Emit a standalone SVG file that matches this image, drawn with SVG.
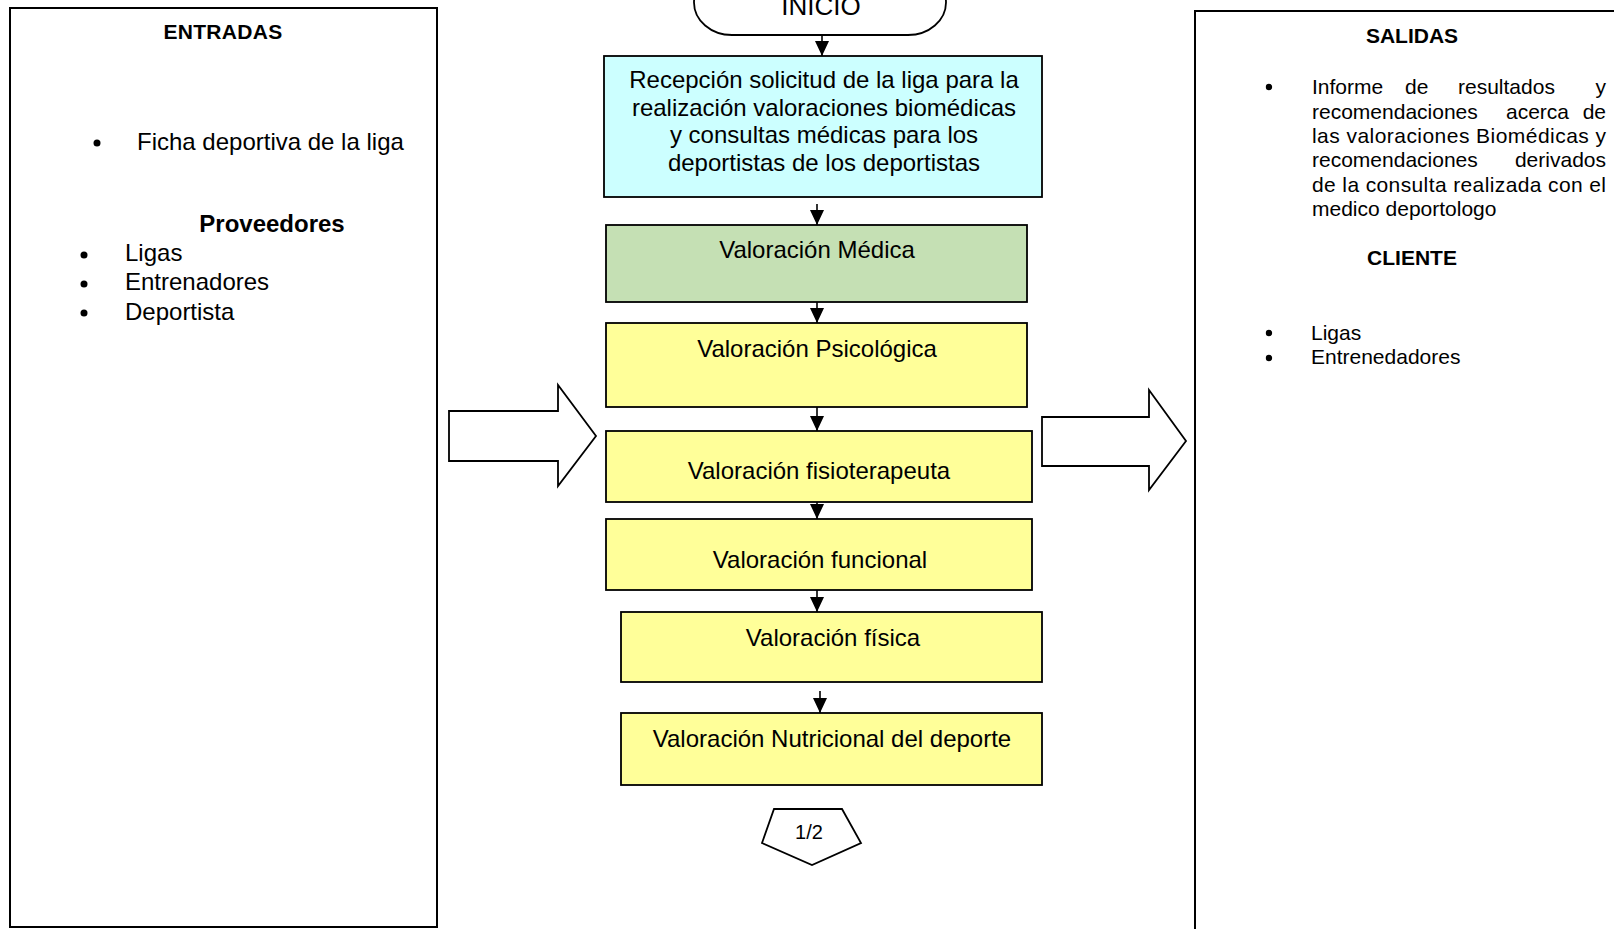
<svg xmlns="http://www.w3.org/2000/svg" width="1614" height="929" viewBox="0 0 1614 929">
<defs>
<style>
text{font-family:"Liberation Sans",Arial,sans-serif;fill:#000}
.t24{font-size:24px}
.t21{font-size:21px}
.b21{font-size:21px;font-weight:bold}
.b24{font-size:24px;font-weight:bold}
.mid{text-anchor:middle}
.end{text-anchor:end}
.box{stroke:#000;stroke-width:1.8}
.frame{fill:#fff;stroke:#000;stroke-width:2}
.conn{stroke:#000;stroke-width:1.6;fill:none}
</style>
<marker id="ah" viewBox="0 0 14 15" refX="7" refY="15" markerWidth="14" markerHeight="15" markerUnits="userSpaceOnUse" orient="0">
<path d="M0,0 L14,0 L7,15 z" fill="#000"/>
</marker>
</defs>
<rect width="1614" height="929" fill="#fff"/>

<g id="entradas">
<rect class="frame" x="10" y="8" width="427" height="919"/>
<text class="b21 mid" x="223" y="39" letter-spacing="0.3">ENTRADAS</text>
<circle cx="97" cy="143" r="3.5"/>
<text class="t24" x="137" y="150">Ficha deportiva de la liga</text>
<text class="b24 mid" x="272" y="232">Proveedores</text>
<circle cx="84" cy="255" r="3.5"/>
<text class="t24" x="125" y="261">Ligas</text>
<circle cx="84" cy="284" r="3.5"/>
<text class="t24" x="125" y="290">Entrenadores</text>
<circle cx="84" cy="313" r="3.5"/>
<text class="t24" x="125" y="320">Deportista</text>
</g>

<g id="salidas">
<rect class="frame" x="1195" y="11" width="430" height="930"/>
<text class="b21 mid" x="1412" y="43">SALIDAS</text>
<circle cx="1269" cy="87" r="3.2"/>
<text class="t21" y="94"><tspan x="1312">Informe</tspan><tspan x="1405">de</tspan><tspan x="1458">resultados</tspan></text>
<text class="t21 end" x="1606" y="94">y</text>
<text class="t21" y="119"><tspan x="1312">recomendaciones</tspan><tspan x="1506">acerca</tspan></text>
<text class="t21 end" x="1606" y="119">de</text>
<text class="t21" x="1312" y="143" textLength="294" lengthAdjust="spacing">las valoraciones Biomédicas y</text>
<text class="t21" x="1312" y="167">recomendaciones</text>
<text class="t21 end" x="1606" y="167">derivados</text>
<text class="t21" x="1312" y="192" textLength="294" lengthAdjust="spacing">de la consulta realizada con el</text>
<text class="t21" x="1312" y="216">medico deportologo</text>
<text class="b21 mid" x="1412" y="265">CLIENTE</text>
<circle cx="1269" cy="333" r="3.2"/>
<text class="t21" x="1311" y="340">Ligas</text>
<circle cx="1269" cy="358" r="3.2"/>
<text class="t21" x="1311" y="364">Entrenedadores</text>
</g>

<g id="inicio">
<rect class="box" x="694" y="-30" width="252" height="65" rx="38" ry="34" fill="#fff"/>
<text class="mid" x="821" y="15" style="font-size:26px">INICIO</text>
</g>

<g id="recepcion">
<rect class="box" x="604" y="56" width="438" height="141" fill="#CCFFFF"/>
<text class="t24 mid" x="824" y="88">Recepción solicitud de la liga para la</text>
<text class="t24 mid" x="824" y="116">realización valoraciones biomédicas</text>
<text class="t24 mid" x="824" y="143">y consultas médicas para los</text>
<text class="t24 mid" x="824" y="171">deportistas de los deportistas</text>
</g>

<g id="medica">
<rect class="box" x="606" y="225" width="421" height="77" fill="#C5E0B4"/>
<text class="t24 mid" x="817" y="258">Valoración Médica</text>
</g>

<g id="psicologica">
<rect class="box" x="606" y="323" width="421" height="84" fill="#FFFF99"/>
<text class="t24 mid" x="817" y="357">Valoración Psicológica</text>
</g>

<g id="fisioterapeuta">
<rect class="box" x="606" y="431" width="426" height="71" fill="#FFFF99"/>
<text class="t24 mid" x="819" y="479">Valoración fisioterapeuta</text>
</g>

<g id="funcional">
<rect class="box" x="606" y="519" width="426" height="71" fill="#FFFF99"/>
<text class="t24 mid" x="820" y="568">Valoración funcional</text>
</g>

<g id="fisica">
<rect class="box" x="621" y="612" width="421" height="70" fill="#FFFF99"/>
<text class="t24 mid" x="833" y="646">Valoración física</text>
</g>

<g id="nutricional">
<rect class="box" x="621" y="713" width="421" height="72" fill="#FFFF99"/>
<text class="t24 mid" x="832" y="747">Valoración Nutricional del deporte</text>
</g>

<g id="conector-1-2">
<polygon class="box" points="774,809 842,809 861,843 812,865 762,843" fill="#fff"/>
<text class="mid" x="809" y="839" style="font-size:20px">1/2</text>
</g>

<g id="flecha-entrada">
<polygon class="box" points="449,411 558,411 558,385 596,436 558,486 558,461 449,461" fill="#fff"/>
</g>

<g id="flecha-salida">
<polygon class="box" points="1042,417 1149,417 1149,390 1186,441 1149,490 1149,466 1042,466" fill="#fff"/>
</g>

<g id="connectors">
<line class="conn" x1="822" y1="35" x2="822" y2="56" marker-end="url(#ah)"/>
<line class="conn" x1="817" y1="204" x2="817" y2="225" marker-end="url(#ah)"/>
<line class="conn" x1="817" y1="302" x2="817" y2="323" marker-end="url(#ah)"/>
<line class="conn" x1="817" y1="407" x2="817" y2="431" marker-end="url(#ah)"/>
<line class="conn" x1="817" y1="502" x2="817" y2="519" marker-end="url(#ah)"/>
<line class="conn" x1="817" y1="590" x2="817" y2="612" marker-end="url(#ah)"/>
<line class="conn" x1="820" y1="691" x2="820" y2="713" marker-end="url(#ah)"/>
</g>
</svg>
